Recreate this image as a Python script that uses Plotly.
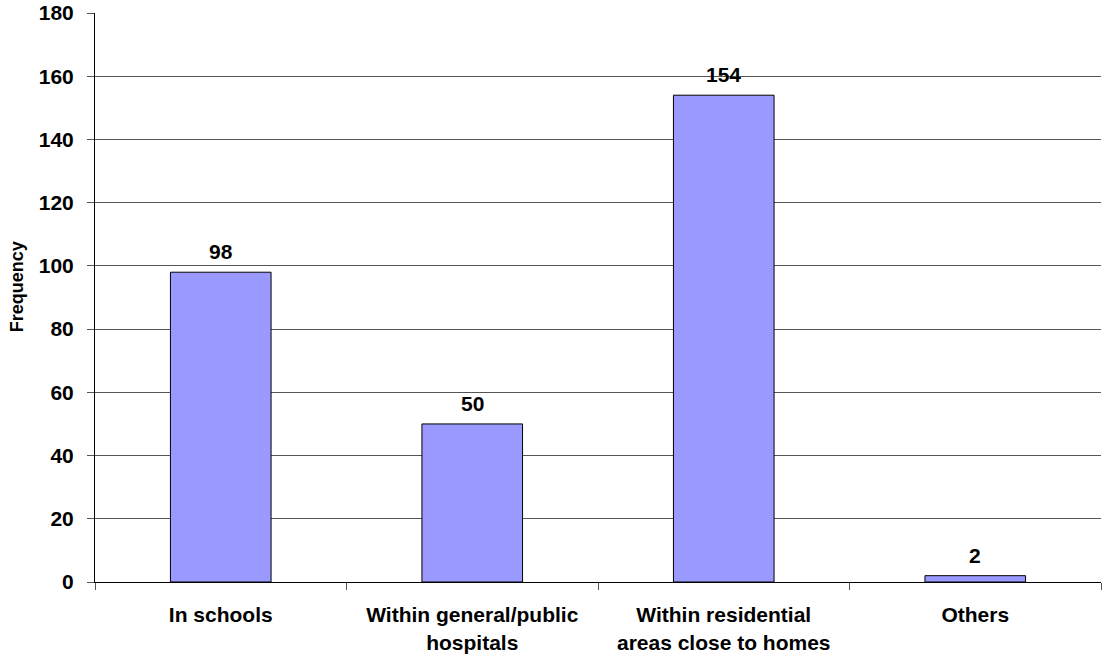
import plotly.graph_objects as go

categories = ["In schools", "Within general/public<br>hospitals",
              "Within residential<br>areas close to homes", "Others"]
frequency = [98, 50, 154, 2]
y_ticks = [0, 20, 40, 60, 80, 100, 120, 140, 160, 180]

FONT = "Liberation Sans, Arial, sans-serif"

fig = go.Figure()
fig.add_trace(go.Bar(
    x=categories,
    y=frequency,
    width=0.4,
    marker=dict(color="#9999FF", line=dict(color="#000000", width=1)),
    hoverinfo="x+y",
))

# value labels above each bar
for cat, val in zip(categories, frequency):
    fig.add_annotation(
        x=cat, y=val, text=str(val), showarrow=False,
        yanchor="bottom", yshift=7,
        font=dict(family=FONT, size=21, color="#000000", weight="bold"),
    )

# vertical axis title
fig.add_annotation(
    x=0, xref="paper", xshift=-78, xanchor="center",
    y=0.518, yref="paper", yanchor="middle",
    text="Frequency", textangle=-90, showarrow=False,
    font=dict(family=FONT, size=18, color="#000000", weight="bold"),
)

fig.update_layout(
    width=1104, height=660,
    margin=dict(l=95, r=3, t=13, b=78),
    paper_bgcolor="#FFFFFF", plot_bgcolor="#FFFFFF",
    showlegend=False,
    font=dict(family=FONT, color="#000000"),
)

fig.update_xaxes(
    type="category",
    automargin=False,
    showline=True, linecolor="#000000", linewidth=1,
    ticks="outside", tickson="boundaries", ticklen=7, tickcolor="#555555",
    tickfont=dict(family=FONT, size=21, color="#000000", weight="bold"),
    ticklabelstandoff=14,
    showgrid=False,
)

fig.update_yaxes(
    range=[0, 180],
    tickvals=y_ticks,
    automargin=False,
    showline=True, linecolor="#000000", linewidth=1,
    ticks="outside", ticklen=7, tickcolor="#555555",
    tickfont=dict(family=FONT, size=21, color="#000000", weight="bold"),
    ticklabelstandoff=9,
    showgrid=True, gridcolor="#555555", gridwidth=1,
    zeroline=False,
)

fig.write_html("out.html")
